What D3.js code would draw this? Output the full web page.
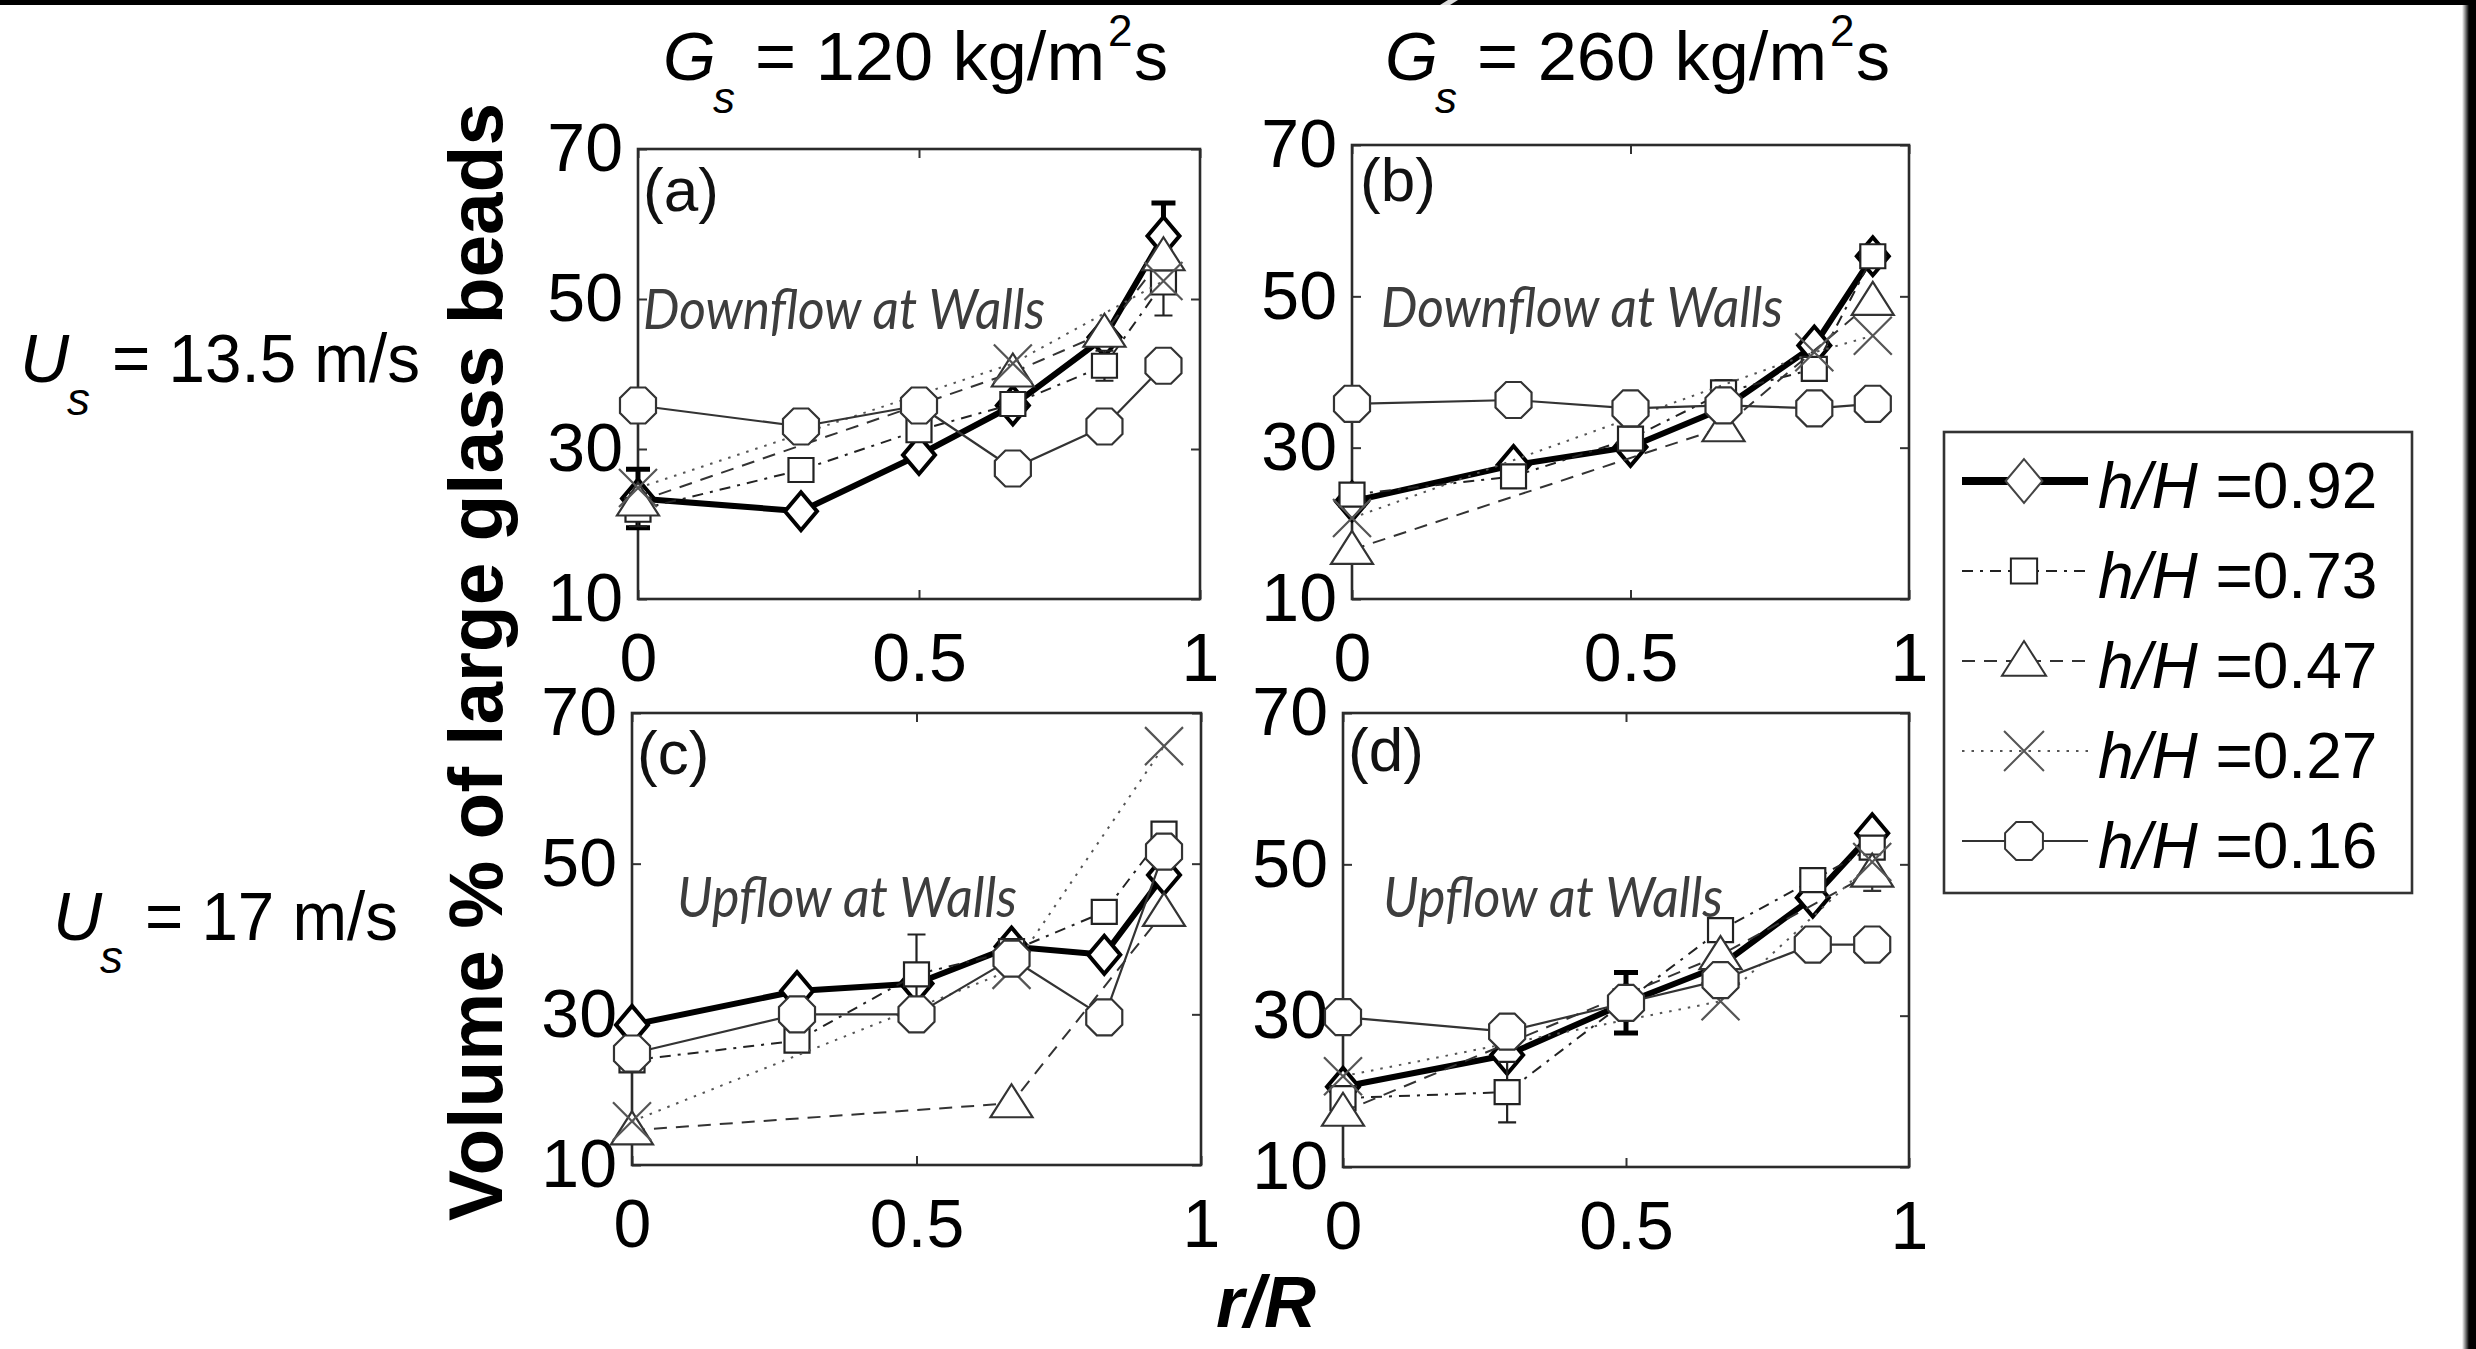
<!DOCTYPE html>
<html>
<head>
<meta charset="utf-8">
<script src="https://cdn.jsdelivr.net/npm/d3@7"></script>
<style>
  html, body { margin: 0; padding: 0; background: #fff; overflow: hidden; }
  svg { display: block; }
</style>
</head>
<body>
<svg id="fig" width="2476" height="1349"></svg>
<script>
// ---- data -------------------------------------------------------------
// radial sampling positions r/R
const radialPos = [0, 0.29, 0.5, 0.667, 0.83, 0.935];
const heightRatios = ["0.92", "0.73", "0.47", "0.27", "0.16"];
const xTicks = [0, 0.5, 1];
const xTickLabels = ["0", "0.5", "1"];
const yTicks = [10, 30, 50, 70];

// (a) Gs = 120, Us = 13.5  (null = not measured)
const a092 = [23.4, 21.7, 29.2, 35.8, 44.9, 58.4];
const a073 = [21.9, 27.2, 32.5, 36.0, 41.1, 52.2];
const a047 = [23.0, null, null, 40.2, 45.5, 55.7];
const a027 = [24.8, null, null, 41.4, null, 52.4];
const a016 = [35.8, 33.0, 35.8, 27.4, 33.0, 41.1];
// (b) Gs = 260, Us = 13.5
const b092 = [22.9, 27.7, 30.1, 35.2, 43.5, 55.3];
const b073 = [23.8, 26.2, 31.2, 37.3, 40.4, 55.3];
const b047 = [16.5, null, null, 32.7, null, 49.4];
const b027 = [20.7, null, null, null, 42.6, 44.8];
const b016 = [35.8, 36.3, 35.2, 35.6, 35.2, 35.8];
// (c) Gs = 120, Us = 17
const c092 = [28.6, 33.1, 34.1, 39.0, 37.9, 48.5];
const c073 = [23.9, 26.5, 35.3, 38.4, 43.6, 54.0];
const c047 = [14.6, null, null, 18.2, null, 43.6];
const c027 = [15.8, null, null, 35.9, null, 65.6];
const c016 = [24.8, 30.0, 30.0, 37.4, 29.6, 51.6];
// (d) Gs = 260, Us = 17
const d092 = [20.6, 24.8, 31.7, 36.6, 45.6, 54.1];
const d073 = [19.1, 19.9, 31.9, 41.3, 47.9, 52.2];
const d047 = [17.3, null, null, 38.0, null, 48.9];
const d027 = [22.0, null, null, 31.9, null, 50.3];
const d016 = [29.8, 27.9, 31.7, 34.7, 39.4, 39.4];

// error bar half-lengths
const a092err = [3.9, null, null, null, null, 4.4];
const a073err = [2.2, null, null, null, 2.0, 4.4];
const b073err = [null, null, null, 1.6, null, null];
const c073err = [null, null, 5.3, null, null, 1.2];
const d092err = [null, null, 4.0, null, null, null];
const d073err = [null, 4.0, null, null, null, null];
const d047err = [null, null, null, null, null, 2.4];

// ---- styling ------------------------------------------------------------
const FONT = "'Liberation Sans', Arial, Helvetica, sans-serif";
const seriesStyle = {
  "0.92": { dash: null,        width: 6,   color: "#000", marker: "diamond",  mstroke: 4,   mcolor: "#000", capW: 12, errW: 5 },
  "0.73": { dash: "11,7,3,7",  width: 2,   color: "#222", marker: "square",   mstroke: 2.2, mcolor: "#222", capW: 9,  errW: 2.2 },
  "0.47": { dash: "13,9",      width: 2,   color: "#333", marker: "triangle", mstroke: 2.2, mcolor: "#333", capW: 9,  errW: 2.2 },
  "0.27": { dash: "2.5,7",     width: 2,   color: "#555", marker: "cross",    mstroke: 2.2, mcolor: "#555", capW: 9,  errW: 2.2 },
  "0.16": { dash: null,        width: 2.2, color: "#333", marker: "octagon",  mstroke: 2.2, mcolor: "#333", capW: 9,  errW: 2.2 }
};

function markerPath(kind, s) {
  s = s || 1;
  switch (kind) {
    case "diamond":  return `M0,${-19*s}L${16*s},0L0,${19*s}L${-16*s},0Z`;
    case "square":   return `M${-12.5*s},${-12*s}h${25*s}v${24*s}h${-25*s}Z`;
    case "triangle": return `M0,${-19*s}L${21*s},${14*s}L${-21*s},${14*s}Z`;
    case "cross":    return `M${-19*s},${-19*s}L${19*s},${19*s}M${-19*s},${19*s}L${19*s},${-19*s}`;
    case "octagon": {
      const r = 19.5 * s;
      return "M" + d3.range(8).map(k => {
        const a = Math.PI / 8 + k * Math.PI / 4;
        return [r * Math.cos(a), r * Math.sin(a)].join(",");
      }).join("L") + "Z";
    }
  }
}

const panels = [
  { tag: "(a)", x0: 638,  x1: 1200, y0: 149, y1: 599,  series: [a092, a073, a047, a027, a016],
    errs: [a092err, a073err, null, null, null], note: "Downflow at Walls", nx: 643,  ny: 329, nw: 402, tx: 643,  ty: 211 },
  { tag: "(b)", x0: 1352, x1: 1909, y0: 145, y1: 599,  series: [b092, b073, b047, b027, b016],
    errs: [null, b073err, null, null, null],    note: "Downflow at Walls", nx: 1381, ny: 327, nw: 402, tx: 1360, ty: 201 },
  { tag: "(c)", x0: 632,  x1: 1201, y0: 713, y1: 1165, series: [c092, c073, c047, c027, c016],
    errs: [null, c073err, null, null, null],    note: "Upflow at Walls",   nx: 677,  ny: 917, nw: 340, tx: 637,  ty: 774 },
  { tag: "(d)", x0: 1343, x1: 1909, y0: 713, y1: 1167, series: [d092, d073, d047, d027, d016],
    errs: [d092err, d073err, d047err, null, null], note: "Upflow at Walls", nx: 1383, ny: 917, nw: 340, tx: 1348, ty: 771 }
];

const svg = d3.select("#fig");
svg.append("rect").attr("width", 2476).attr("height", 1349).attr("fill", "#fff");

// ---- panels -----------------------------------------------------------------
panels.forEach(p => {
  const x = d3.scaleLinear().domain([0, 1]).range([p.x0, p.x1]);
  const y = d3.scaleLinear().domain([10, 70]).range([p.y1, p.y0]);
  const g = svg.append("g");

  const styleAxis = sel => {
    sel.select(".domain").remove();
    sel.attr("font-size", null).attr("font-family", null);
    sel.selectAll(".tick line").attr("stroke", "#333").attr("stroke-width", 2);
    sel.selectAll(".tick text").attr("font-family", FONT).attr("font-size", 68).attr("fill", "#000");
  };

  g.append("g").attr("transform", `translate(0,${p.y1})`)
    .call(d3.axisBottom(x).tickValues(xTicks).tickFormat((d, i) => xTickLabels[i])
      .tickSizeInner(-9).tickSizeOuter(0).tickPadding(34))
    .call(styleAxis);
  g.append("g").attr("transform", `translate(0,${p.y0})`)
    .call(d3.axisTop(x).tickValues(xTicks).tickFormat("").tickSizeInner(-9).tickSizeOuter(0))
    .call(styleAxis);
  g.append("g").attr("transform", `translate(${p.x0},0)`)
    .call(d3.axisLeft(y).tickValues(yTicks).tickFormat(d3.format("d"))
      .tickSizeInner(-9).tickSizeOuter(0).tickPadding(15))
    .call(styleAxis);
  g.append("g").attr("transform", `translate(${p.x1},0)`)
    .call(d3.axisRight(y).tickValues(yTicks).tickFormat("").tickSizeInner(-9).tickSizeOuter(0))
    .call(styleAxis);

  g.append("rect")
    .attr("x", p.x0).attr("y", p.y0)
    .attr("width", p.x1 - p.x0).attr("height", p.y1 - p.y0)
    .attr("fill", "none").attr("stroke", "#2b2b2b").attr("stroke-width", 2.6);

  // panel tag and flow annotation
  g.append("text").attr("x", p.tx).attr("y", p.ty)
    .attr("font-family", FONT).attr("font-size", 62).attr("fill", "#111")
    .text(p.tag);
  g.append("text").attr("x", p.nx).attr("y", p.ny)
    .attr("font-family", "Lato, 'Open Sans', sans-serif").attr("font-style", "italic")
    .attr("font-size", 56).attr("fill", "#3d3d3d")
    .attr("textLength", p.nw).attr("lengthAdjust", "spacingAndGlyphs")
    .text(p.note);

  const line = d3.line().x(d => x(d.r)).y(d => y(d.v));

  p.series.forEach((vals, si) => {
    const st = seriesStyle[heightRatios[si]];
    const pts = vals.map((v, i) => ({ r: radialPos[i], v: v, e: p.errs[si] ? p.errs[si][i] : null }))
                    .filter(d => d.v !== null);
    const sg = g.append("g");
    sg.append("path").datum(pts).attr("d", line)
      .attr("fill", "none").attr("stroke", st.color).attr("stroke-width", st.width)
      .attr("stroke-dasharray", st.dash).attr("stroke-linejoin", "round");

    const eb = pts.filter(d => d.e !== null);
    sg.selectAll("path.err").data(eb).join("path").attr("class", "err")
      .attr("d", d => {
        const cx = x(d.r), lo = y(d.v - d.e), hi = y(d.v + d.e);
        return `M${cx},${lo}V${hi}M${cx - st.capW},${hi}H${cx + st.capW}M${cx - st.capW},${lo}H${cx + st.capW}`;
      })
      .attr("fill", "none").attr("stroke", st.mcolor).attr("stroke-width", st.errW);

    sg.selectAll("path.mk").data(pts).join("path").attr("class", "mk")
      .attr("transform", d => `translate(${x(d.r)},${y(d.v)})`)
      .attr("d", markerPath(st.marker))
      .attr("fill", st.marker === "cross" ? "none" : "#fff")
      .attr("stroke", st.mcolor).attr("stroke-width", st.mstroke)
      .attr("stroke-linejoin", "miter");
  });
});

// ---- column / row headings ---------------------------------------------------
function colTitle(gx, value) {
  const t = svg.append("g").attr("font-family", FONT).attr("fill", "#000");
  t.append("text").attr("x", gx).attr("y", 80).attr("font-size", 68).attr("font-style", "italic").text("G");
  t.append("text").attr("x", gx + 50).attr("y", 113).attr("font-size", 44).attr("font-style", "italic").text("s");
  t.append("text").attr("x", gx + 92).attr("y", 80).attr("font-size", 68)
    .attr("textLength", 350).attr("lengthAdjust", "spacingAndGlyphs").text(`= ${value} kg/m`);
  t.append("text").attr("x", gx + 445).attr("y", 46).attr("font-size", 44).text("2");
  t.append("text").attr("x", gx + 471).attr("y", 80).attr("font-size", 68).text("s");
}
colTitle(663, "120");
colTitle(1385, "260");

function rowTitle(ux, base, value, len) {
  const t = svg.append("g").attr("font-family", FONT).attr("fill", "#000");
  t.append("text").attr("x", ux).attr("y", base).attr("font-size", 68).attr("font-style", "italic").text("U");
  t.append("text").attr("x", ux + 47).attr("y", base + 33).attr("font-size", 46).attr("font-style", "italic").text("s");
  t.append("text").attr("x", ux + 92).attr("y", base).attr("font-size", 68)
    .attr("textLength", len).attr("lengthAdjust", "spacingAndGlyphs").text(`= ${value} m/s`);
}
rowTitle(20, 382, "13.5", 308);
rowTitle(53, 940, "17", 253);

// axis titles
svg.append("text")
  .attr("transform", "translate(502,662) rotate(-90)")
  .attr("text-anchor", "middle")
  .attr("font-family", FONT).attr("font-weight", "bold").attr("font-size", 76)
  .attr("textLength", 1118).attr("lengthAdjust", "spacingAndGlyphs")
  .text("Volume % of large glass beads");
svg.append("text")
  .attr("x", 1266).attr("y", 1327).attr("text-anchor", "middle")
  .attr("font-family", FONT).attr("font-weight", "bold").attr("font-style", "italic").attr("font-size", 72)
  .text("r/R");

// ---- legend -----------------------------------------------------------------------
const legend = svg.append("g");
legend.append("rect").attr("x", 1944).attr("y", 432).attr("width", 468).attr("height", 461)
  .attr("fill", "#fff").attr("stroke", "#333").attr("stroke-width", 2.6);
const legendY = d3.scalePoint().domain(heightRatios).range([481, 841]);
heightRatios.forEach(h => {
  const st = seriesStyle[h];
  const ly = legendY(h);
  legend.append("line").attr("x1", 1962).attr("x2", 2088).attr("y1", ly).attr("y2", ly)
    .attr("stroke", st.color).attr("stroke-width", h === "0.92" ? 8 : 2)
    .attr("stroke-dasharray", st.dash);
  legend.append("path").attr("transform", `translate(2024,${ly})`)
    .attr("d", markerPath(st.marker, h === "0.92" ? 1.15 : 1.05))
    .attr("fill", st.marker === "cross" ? "none" : "#fff")
    .attr("stroke", h === "0.92" ? "#444" : st.mcolor).attr("stroke-width", 2);
  const t = legend.append("text").attr("x", 2098).attr("y", ly + 27)
    .attr("font-family", FONT).attr("font-size", 64).attr("fill", "#000");
  t.append("tspan").attr("font-style", "italic").text("h/H");
  t.append("tspan").text(" =" + h);
});

// ---- outer frame edges --------------------------------------------------------
const defs = svg.append("defs");
const grad = defs.append("linearGradient").attr("id", "edgeFade").attr("x1", 0).attr("x2", 1);
grad.append("stop").attr("offset", 0).attr("stop-color", "#000").attr("stop-opacity", 0);
grad.append("stop").attr("offset", 0.5).attr("stop-color", "#000").attr("stop-opacity", 1);
grad.append("stop").attr("offset", 1).attr("stop-color", "#000").attr("stop-opacity", 1);
svg.append("rect").attr("x", 0).attr("y", 0).attr("width", 2476).attr("height", 5).attr("fill", "#000");
svg.append("rect").attr("x", 2462).attr("y", 0).attr("width", 14).attr("height", 1349).attr("fill", "url(#edgeFade)");
svg.append("path").attr("d", "M1448,0L1458,0L1450,5L1440,5Z").attr("fill", "#ddd");
</script>
</body>
</html>
